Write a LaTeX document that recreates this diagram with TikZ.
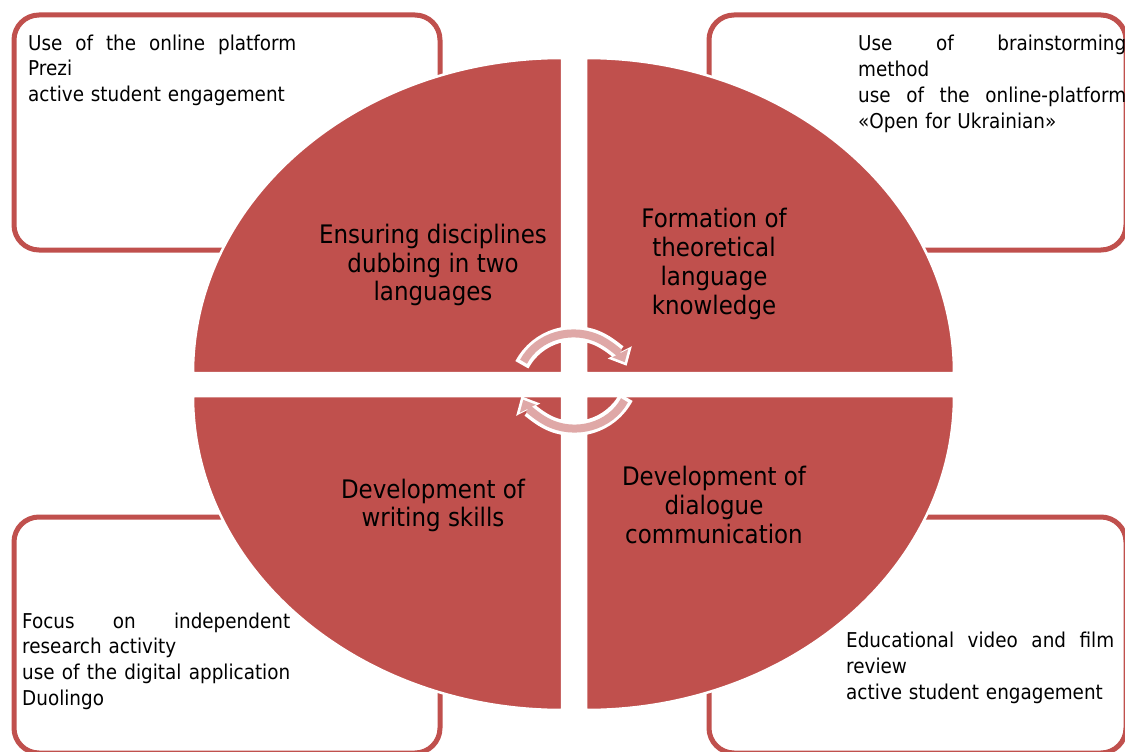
\documentclass[tikz,border=0pt]{standalone}
\usepackage{fontspec}
\setmainfont{DejaVu Sans}[FakeStretch=0.9]
\usepackage{xcolor}
\usetikzlibrary{arrows.meta}
\definecolor{quadred}{RGB}{192,80,77}
\definecolor{arrowpink}{RGB}{223,168,167}
\newcommand{\fullline}[1]{\makebox[268bp][l]{#1}}

\tikzset{
  quadrant/.style={fill=quadred, draw=white, line width=2.5bp},
  infobox/.style={draw=quadred, line width=5bp, rounded corners=25bp},
  infotext/.style={anchor=north west, inner sep=0pt, text width=268bp, align=left, font=\fontsize{20.5}{26}\selectfont},
  quadtext/.style={align=center, inner sep=0pt, font=\fontsize{25.6}{29}\selectfont},
  cyclerim/.style={white, line width=15bp, -{Triangle[length=15bp, width=27bp, line width=0pt]}},
  cyclefill/.style={arrowpink, line width=8bp, shorten <=3.5bp, shorten >=4bp, -{Triangle[length=10bp, width=18bp, line width=0pt]}}
}

\begin{document}
\begin{tikzpicture}[x=1bp, y=1bp]
  \fill[white] (0,0) rectangle (1125,-752);
  \useasboundingbox (0,0) rectangle (1125,-752);
  \clip (0,0) rectangle (1125,-752);

  \draw[infobox] (14,-15) rectangle (440,-250);
  \draw[infobox] (709,-15) rectangle (1126,-250);
  \draw[infobox] (14,-517) rectangle (440,-753);
  \draw[infobox] (709,-517) rectangle (1126,-753);

  \filldraw[quadrant] (562,-373) -- (193,-373) arc[start angle=180, end angle=90, x radius=369, y radius=315] -- cycle;
  \filldraw[quadrant] (586,-373) -- (586,-58) arc[start angle=90, end angle=0, x radius=368, y radius=315] -- cycle;
  \filldraw[quadrant] (586,-396) -- (954,-396) arc[start angle=0, end angle=-90, x radius=368, y radius=314] -- cycle;
  \filldraw[quadrant] (562,-396) -- (562,-710) arc[start angle=-90, end angle=-180, x radius=369, y radius=314] -- cycle;

  \coordinate (upc) at (574,-392.5);
  \coordinate (loc) at (574,-369.5);
  \draw[cyclerim] ([shift={(152:59)}]upc) arc[start angle=152, end angle=27, radius=59];
  \draw[cyclefill] ([shift={(152:59)}]upc) arc[start angle=152, end angle=27, radius=59];
  \draw[cyclerim] ([shift={(-28:59)}]loc) arc[start angle=-28, end angle=-153, radius=59];
  \draw[cyclefill] ([shift={(-28:59)}]loc) arc[start angle=-28, end angle=-153, radius=59];

  \node[quadtext] (dubbing) at (433,-265) {Ensuring disciplines\\dubbing in two\\languages};
  \node[quadtext] (theory) at (714,-264) {Formation of\\theoretical\\language\\knowledge};
  \node[quadtext] (writing) at (433,-505.5) {Development of\\writing skills};
  \node[quadtext] (dialogue) at (714,-505) {Development of\\dialogue\\communication};

  \node[infotext] (prezi) at (28,-34.3) {\fullline{Use\hfill of\hfill the\hfill online\hfill platform}\\Prezi\\active student engagement};
  \node[infotext] (brainstorm) at (858,-35) {\fullline{Use\hfill of\hfill brainstorming}\\method\\\fullline{use\hfill of\hfill the\hfill online-platform}\\«Open for Ukrainian»};
  \node[infotext] (duolingo) at (22,-612.3) {\fullline{Focus\hfill on\hfill independent}\\research activity\\\fullline{use\hfill of\hfill the\hfill digital\hfill application}\\Duolingo};
  \node[infotext] (video) at (846,-632) {\fullline{Educational\hfill video\hfill and\hfill film}\\review\\active student engagement};
\end{tikzpicture}
\end{document}
